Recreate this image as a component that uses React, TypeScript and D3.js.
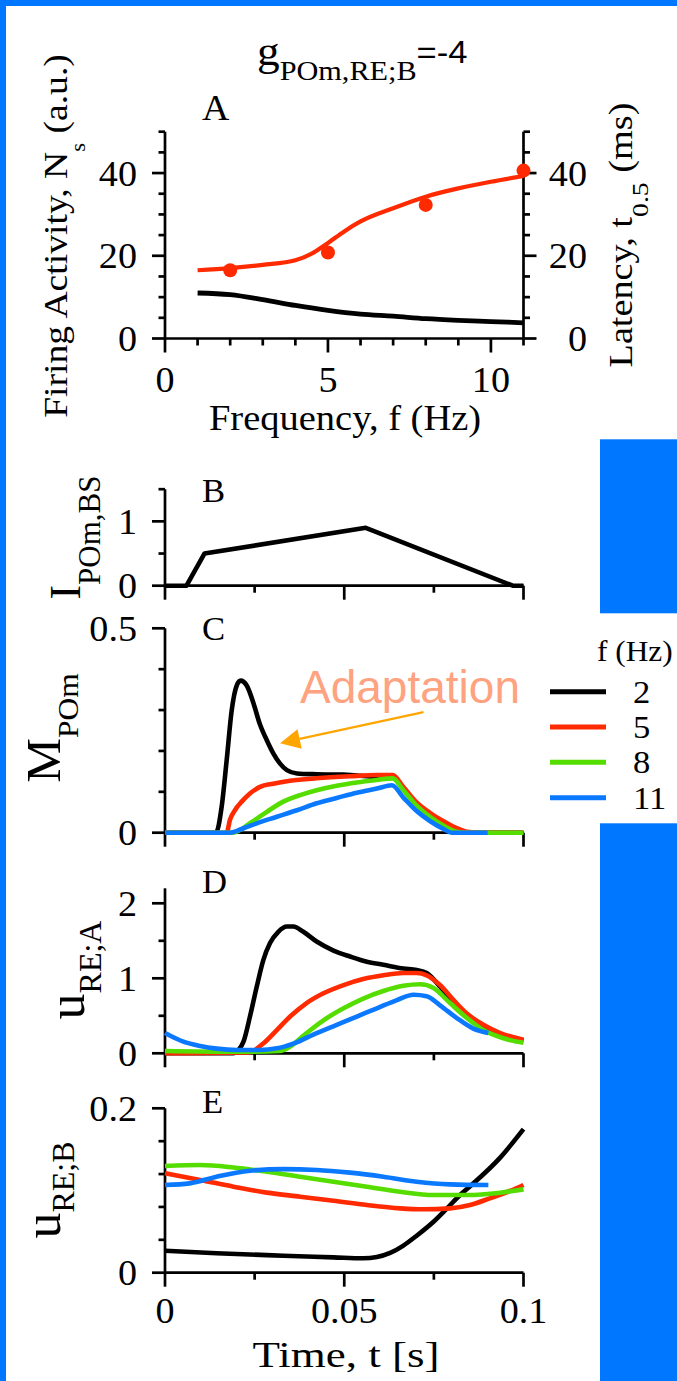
import React from 'react';
import * as d3 from 'd3';

// ---------- DATA ----------
// Panel A
const freqLatency = [1, 2, 3, 4, 4.5, 5, 5.5, 6, 7, 8, 9, 10, 11];
const latencyCurve = [16.5, 17.0, 17.8, 18.9, 20.5, 23.1, 25.9, 28.3, 31.5, 34.3, 36.3, 37.9, 39.3];
const freqFiring = [1, 2, 3, 4, 5, 6, 7, 8, 9, 10, 11];
const firingCurve = [11.0, 10.6, 9.4, 8.0, 6.8, 5.9, 5.4, 4.8, 4.4, 4.1, 3.8];
const freqDots = [2, 5, 8, 11];
const latencyDots = [16.5, 20.8, 32.3, 40.6];

// Panel B: input current [t, I]
const inputB = [[0, 0], [0.006, 0], [0.011, 0.5], [0.056, 0.9], [0.097, 0], [0.1, 0]];

// Panel C: M_POm [t, M]
const mPOm2 = [[0, 0], [0.0142, 0], [0.0158, 0.063], [0.0172, 0.177], [0.0186, 0.299], [0.02, 0.36], [0.0211, 0.372], [0.0228, 0.36], [0.0247, 0.316], [0.0264, 0.267], [0.0284, 0.226], [0.0302, 0.194], [0.0321, 0.169], [0.034, 0.153], [0.0368, 0.145], [0.0423, 0.143], [0.0498, 0.142], [0.0563, 0.138], [0.0609, 0.135], [0.0635, 0.137], [0.0665, 0.108], [0.0702, 0.07], [0.074, 0.044], [0.0777, 0.024], [0.0814, 0.009], [0.0842, 0.001], [0.087, 0], [0.1, 0]];
const mPOm5 = [[0, 0], [0.0172, 0], [0.0181, 0.031], [0.0195, 0.055], [0.0214, 0.076], [0.0237, 0.096], [0.0265, 0.112], [0.0302, 0.12], [0.0349, 0.127], [0.0423, 0.133], [0.0516, 0.138], [0.0591, 0.141], [0.0635, 0.141], [0.0665, 0.112], [0.0702, 0.074], [0.074, 0.048], [0.0777, 0.028], [0.0814, 0.011], [0.0842, 0.002], [0.087, 0], [0.1, 0]];
const mPOm8 = [[0, 0], [0.019, 0], [0.0237, 0.023], [0.0284, 0.051], [0.033, 0.076], [0.0377, 0.092], [0.0423, 0.104], [0.0479, 0.115], [0.0535, 0.123], [0.0591, 0.129], [0.0635, 0.133], [0.0665, 0.104], [0.0702, 0.066], [0.074, 0.038], [0.0777, 0.017], [0.081, 0.003], [0.084, 0], [0.1, 0]];
const mPOm11 = [[0, 0], [0.018, 0], [0.0219, 0.011], [0.0256, 0.023], [0.0312, 0.039], [0.0368, 0.055], [0.0423, 0.072], [0.0479, 0.085], [0.0535, 0.098], [0.0591, 0.108], [0.0633, 0.116], [0.0665, 0.086], [0.0702, 0.053], [0.074, 0.028], [0.0777, 0.009], [0.08, 0], [0.09, 0]];

// Panel D: u_RE;A [t, u]
const uA2 = [[0, 0], [0.019, 0], [0.0205, 0.044], [0.0219, 0.155], [0.0237, 0.49], [0.0256, 0.89], [0.0274, 1.24], [0.0293, 1.47], [0.0316, 1.62], [0.034, 1.69], [0.0358, 1.69], [0.0386, 1.62], [0.0423, 1.49], [0.047, 1.37], [0.0516, 1.29], [0.0563, 1.22], [0.0609, 1.18], [0.0665, 1.13], [0.0702, 1.11], [0.073, 1.07], [0.0767, 0.89], [0.0805, 0.67], [0.0842, 0.49], [0.0888, 0.33], [0.0935, 0.24], [0.1, 0.17]];
const uA5 = [[0, 0], [0.0233, 0.01], [0.0274, 0.13], [0.0312, 0.31], [0.0349, 0.49], [0.0395, 0.67], [0.0442, 0.8], [0.0498, 0.91], [0.0553, 0.99], [0.0609, 1.04], [0.0665, 1.07], [0.0702, 1.07], [0.073, 1.04], [0.0767, 0.91], [0.0805, 0.71], [0.0842, 0.53], [0.0888, 0.38], [0.0935, 0.27], [0.1, 0.18]];
const uA8 = [[0, 0.03], [0.02, 0.02], [0.0321, 0.03], [0.0349, 0.09], [0.0395, 0.27], [0.0442, 0.44], [0.0498, 0.6], [0.0553, 0.73], [0.0609, 0.83], [0.0665, 0.9], [0.0712, 0.92], [0.0749, 0.87], [0.0795, 0.67], [0.0842, 0.47], [0.0888, 0.31], [0.0944, 0.2], [0.1, 0.14]];
const uA11 = [[0, 0.27], [0.0051, 0.155], [0.0098, 0.097], [0.0144, 0.062], [0.02, 0.044], [0.0264, 0.044], [0.0312, 0.066], [0.0358, 0.13], [0.0423, 0.27], [0.0479, 0.38], [0.0535, 0.49], [0.0591, 0.6], [0.0647, 0.71], [0.0693, 0.78], [0.073, 0.76], [0.0767, 0.64], [0.0814, 0.47], [0.086, 0.33], [0.0902, 0.27]];

// Panel E: u_RE;B [t, u]
const uB2 = [[0, 0.0268], [0.0144, 0.0236], [0.033, 0.0207], [0.047, 0.0187], [0.0553, 0.0175], [0.0591, 0.019], [0.0628, 0.024], [0.0665, 0.033], [0.0702, 0.045], [0.0749, 0.062], [0.0786, 0.078], [0.0823, 0.0945], [0.0856, 0.107], [0.0935, 0.14], [0.1, 0.1746]];
const uB5 = [[0, 0.121], [0.0098, 0.1128], [0.0191, 0.1047], [0.0284, 0.0974], [0.0377, 0.0925], [0.047, 0.0876], [0.0563, 0.0824], [0.0656, 0.0783], [0.072, 0.0771], [0.0795, 0.0783], [0.0851, 0.0824], [0.0906, 0.0905], [0.0962, 0.0994], [0.1, 0.1067]];
const uB8 = [[0, 0.1298], [0.0098, 0.131], [0.0191, 0.128], [0.0284, 0.1229], [0.0377, 0.1168], [0.047, 0.1107], [0.0563, 0.1046], [0.0656, 0.0985], [0.0749, 0.0945], [0.0842, 0.0945], [0.0935, 0.0973], [0.1, 0.1014]];
const uB11 = [[0, 0.1067], [0.0069, 0.1087], [0.0144, 0.1168], [0.0237, 0.124], [0.033, 0.126], [0.0423, 0.125], [0.0516, 0.1217], [0.0609, 0.1168], [0.0702, 0.1107], [0.0795, 0.1075], [0.0902, 0.1067]];

// legend / series
const legendFreqs = ['2', '5', '8', '11'];
const seriesColors = ['#000000', '#ff2a00', '#55dd00', '#0a78ff'];

// ticks
const ticksA = { major: [0, 20, 40], minor: [5, 10, 15, 25, 30, 35, 45, 50], labels: ['0', '20', '40'], top: 50 };
const ticksB = { major: [0, 1], minor: [0.5, 1.5], labels: ['0', '1'], top: 1.5 };
const ticksC = { major: [0, 0.5], minor: [0.1, 0.2, 0.3, 0.4], labels: ['0', '0.5'], top: 0.5 };
const ticksD = { major: [0, 1, 2], minor: [0.5, 1.5], labels: ['0', '1', '2'], top: 2.2 };
const ticksE = { major: [0, 0.2], minor: [0.04, 0.08, 0.12, 0.16], labels: ['0', '0.2'], top: 0.2 };
const freqMajor = [0, 5, 10];
const freqMinor = [1, 2, 3, 4, 6, 7, 8, 9, 11];
const freqLabels = ['0', '5', '10'];
const timeMajor = [0, 0.05, 0.1];
const timeMinor = [0.025, 0.075];
const timeLabels = ['0', '0.05', '0.1'];

// annotation (data coords of panel C)
const arrowTail = [0.0721, 0.295];
const arrowTip = [0.0321, 0.219];

const SERIF = '"Liberation Serif", "Times New Roman", Times, serif';
const SANS = '"Liberation Sans", Arial, Helvetica, sans-serif';
const BLUE = '#0077ff';

type Sc = d3.ScaleLinear<number, number>;

function LeftAxis({ y, t, x0 }: { y: Sc; t: any; x0: number }) {
  return (
    <g stroke="#000" strokeWidth={2.7}>
      <line x1={x0} x2={x0} y1={y(0)} y2={y(t.top)} />
      {t.major.map((v: number) => <line key={'M' + v} x1={x0 - 13} x2={x0} y1={y(v)} y2={y(v)} />)}
      {t.minor.map((v: number) => <line key={'m' + v} x1={x0 - 6.5} x2={x0} y1={y(v)} y2={y(v)} />)}
    </g>
  );
}

function BottomAxis({ x, y0, major, minor }: { x: Sc; y0: number; major: number[]; minor: number[] }) {
  const [a, b] = x.range();
  return (
    <g stroke="#000" strokeWidth={2.7}>
      <line x1={a} x2={b} y1={y0} y2={y0} />
      {major.map(v => <line key={'M' + v} x1={x(v)} x2={x(v)} y1={y0} y2={y0 + 14} />)}
      {minor.map(v => <line key={'m' + v} x1={x(v)} x2={x(v)} y1={y0} y2={y0 + 7} />)}
    </g>
  );
}

function TickLabels({ y, t, x, anchor = 'end' }: { y: Sc; t: any; x: number; anchor?: string }) {
  return (
    <g fontFamily={SERIF} fontSize={36} textAnchor={anchor}>
      {t.major.map((v: number, i: number) => (
        <text key={v} transform={`translate(${x},${y(v) + 12.5}) scale(1.06,1)`}>{t.labels[i]}</text>
      ))}
    </g>
  );
}

function Traces({ x, y, data, width = 4.6 }: { x: Sc; y: Sc; data: number[][][]; width?: number }) {
  const line = d3.line<number[]>().x(d => x(d[0])).y(d => y(d[1])).curve(d3.curveMonotoneX);
  return (
    <g fill="none" strokeWidth={width} strokeLinejoin="round">
      {data.map((s, i) => <path key={i} d={line(s) || ''} stroke={seriesColors[i]} />)}
    </g>
  );
}

export default function App() {
  const W = 677, H = 1381;
  const xL = 165, xR = 523.5;
  const xA = d3.scaleLinear().domain([0, 11]).range([xL, xR]);
  const xT = d3.scaleLinear().domain([0, 0.1]).range([xL, xR]);
  const yA = d3.scaleLinear().domain([0, 50]).range([338.5, 131.7]);
  const yB = d3.scaleLinear().domain([0, 1.5]).range([585.7, 489.2]);
  const yC = d3.scaleLinear().domain([0, 0.5]).range([832.7, 628.3]);
  const yD = d3.scaleLinear().domain([0, 2.2]).range([1053.3, 888.3]);
  const yE = d3.scaleLinear().domain([0, 0.2]).range([1272.7, 1108.3]);

  const latPts = freqLatency.map((f, i) => [xA(f), yA(latencyCurve[i])] as [number, number]);
  const firPts = freqFiring.map((f, i) => [xA(f), yA(firingCurve[i])] as [number, number]);
  const lineXY = d3.line().curve(d3.curveMonotoneX);

  // arrow geometry
  const tipX = xT(arrowTip[0]), tipY = yC(arrowTip[1]);
  const tailX = xT(arrowTail[0]), tailY = yC(arrowTail[1]);
  const len = Math.hypot(tipX - tailX, tipY - tailY);
  const ux = (tipX - tailX) / len, uy = (tipY - tailY) / len;
  const bx = tipX - 20 * ux, by = tipY - 20 * uy;
  const px = -uy, py = ux;
  const head = `M${tipX},${tipY}L${bx + 10 * px},${by + 10 * py}L${bx - 10 * px},${by - 10 * py}Z`;

  const letter = (s: string, y: number, size = 33) => (
    <text transform={`translate(202,${y}) scale(1.05,1)`} fontFamily={SERIF} fontSize={size}>{s}</text>
  );

  const legY = d3.scaleLinear().domain([0, 3]).range([691.7, 797.7]);

  return (
    <svg width={W} height={H} style={{ position: 'absolute', left: 0, top: 0, display: 'block' }}>
      <rect x={0} y={0} width={W} height={H} fill={BLUE} />
      <rect x={6} y={6} width={W - 6} height={H - 6} fill="#fff" />
      <rect x={600} y={439.3} width={77} height={174} fill={BLUE} />
      <rect x={600} y={823.3} width={77} height={H - 823.3} fill={BLUE} />

      {/* Title */}
      <text transform="translate(257,65) scale(1.08,1)" fontFamily={SERIF}>
        <tspan fontSize={42}>g</tspan>
        <tspan fontSize={28} dy={15}>POm,RE;B</tspan>
        <tspan fontSize={32} fontFamily={SANS} dy={-17}>=-4</tspan>
      </text>

      {/* ---------- Panel A ---------- */}
      {letter('A', 120, 36)}
      <LeftAxis y={yA} t={ticksA} x0={xL} />
      <g stroke="#000" strokeWidth={2.7}>
        <line x1={xR} x2={xR} y1={yA(0)} y2={yA(50)} />
        {ticksA.major.map(v => <line key={'R' + v} x1={xR} x2={xR + 13} y1={yA(v)} y2={yA(v)} />)}
        {ticksA.minor.map(v => <line key={'r' + v} x1={xR} x2={xR + 6.5} y1={yA(v)} y2={yA(v)} />)}
      </g>
      <BottomAxis x={xA} y0={yA(0)} major={freqMajor} minor={freqMinor} />
      <TickLabels y={yA} t={ticksA} x={137} />
      <TickLabels y={yA} t={ticksA} x={587} />
      <g fontFamily={SERIF} fontSize={36} textAnchor="middle">
        {freqMajor.map((v, i) => <text key={v} transform={`translate(${xA(v)},392) scale(1.06,1)`}>{freqLabels[i]}</text>)}
      </g>
      <path d={lineXY(firPts) || ''} fill="none" stroke="#000" strokeWidth={4.8} />
      <path d={lineXY(latPts) || ''} fill="none" stroke={seriesColors[1]} strokeWidth={4.2} />
      {freqDots.map((f, i) => <circle key={f} cx={xA(f)} cy={yA(latencyDots[i])} r={7} fill={seriesColors[1]} />)}
      <text transform="translate(66.7,236) rotate(-90) scale(1.14,1)" textAnchor="middle" fontFamily={SERIF} fontSize={33}>
        Firing Activity, N<tspan fontSize={20} dy={18}>s</tspan><tspan dy={-18}> (a.u.)</tspan>
      </text>
      <text transform="translate(631.7,235) rotate(-90) scale(1.16,1)" textAnchor="middle" fontFamily={SERIF} fontSize={33}>
        Latency, t<tspan fontSize={24} dy={16}>0.5</tspan><tspan dy={-16}> (ms)</tspan>
      </text>
      <text transform="translate(345,430) scale(1.1,1)" textAnchor="middle" fontFamily={SERIF} fontSize={35}>Frequency, f (Hz)</text>

      {/* ---------- Panel B ---------- */}
      {letter('B', 501.7)}
      <LeftAxis y={yB} t={ticksB} x0={xL} />
      <BottomAxis x={xT} y0={yB(0)} major={timeMajor} minor={timeMinor} />
      <TickLabels y={yB} t={ticksB} x={137} />
      <path d={d3.line<number[]>().x(d => xT(d[0])).y(d => yB(d[1]))(inputB) || ''} fill="none" stroke="#000" strokeWidth={4.6} strokeLinejoin="round" />
      <text transform="translate(80,537.5) rotate(-90)" textAnchor="middle" fontFamily={SERIF}>
        <tspan fontSize={44}>I</tspan><tspan fontSize={31} dy={20}>POm,BS</tspan>
      </text>

      {/* ---------- Panel C ---------- */}
      {letter('C', 640)}
      <LeftAxis y={yC} t={ticksC} x0={xL} />
      <BottomAxis x={xT} y0={yC(0)} major={timeMajor} minor={timeMinor} />
      <TickLabels y={yC} t={ticksC} x={137} />
      <Traces x={xT} y={yC} data={[mPOm2, mPOm5, mPOm8, mPOm11]} />
      <text transform="translate(60,728) rotate(-90) scale(1.05,1)" textAnchor="middle" fontFamily={SERIF}>
        <tspan fontSize={48}>M</tspan><tspan fontSize={30} dy={18}>POm</tspan>
      </text>
      <text x={300} y={703.3} fontFamily={SANS} fontSize={46} fill="#ffa27f">Adaptation</text>
      <line x1={tailX} y1={tailY} x2={bx} y2={by} stroke="#ffa500" strokeWidth={2.2} />
      <path d={head} fill="#ffa500" />

      {/* legend */}
      <text transform="translate(597,661) scale(1.08,1)" fontFamily={SERIF} fontSize={29}>f (Hz)</text>
      {legendFreqs.map((f, i) => (
        <g key={f}>
          <line x1={550} x2={606} y1={legY(i)} y2={legY(i)} stroke={seriesColors[i]} strokeWidth={5} />
          <text transform={`translate(633,${legY(i) + 11}) scale(1.08,1)`} fontFamily={SERIF} fontSize={32}>{f}</text>
        </g>
      ))}

      {/* ---------- Panel D ---------- */}
      {letter('D', 893.3)}
      <LeftAxis y={yD} t={ticksD} x0={xL} />
      <BottomAxis x={xT} y0={yD(0)} major={timeMajor} minor={timeMinor} />
      <TickLabels y={yD} t={ticksD} x={137} />
      <Traces x={xT} y={yD} data={[uA2, uA5, uA8, uA11]} />
      <text transform="translate(84,970) rotate(-90)" textAnchor="middle" fontFamily={SERIF}>
        <tspan fontSize={52}>u</tspan><tspan fontSize={32} dy={17}>RE;A</tspan>
      </text>

      {/* ---------- Panel E ---------- */}
      {letter('E', 1113)}
      <LeftAxis y={yE} t={ticksE} x0={xL} />
      <BottomAxis x={xT} y0={yE(0)} major={timeMajor} minor={timeMinor} />
      <TickLabels y={yE} t={ticksE} x={137} />
      <Traces x={xT} y={yE} data={[uB2, uB5, uB8, uB11]} />
      <text transform="translate(60,1190) rotate(-90)" textAnchor="middle" fontFamily={SERIF}>
        <tspan fontSize={52}>u</tspan><tspan fontSize={32} dy={14}>RE;B</tspan>
      </text>
      <g fontFamily={SERIF} fontSize={36} textAnchor="middle">
        {timeMajor.map((v, i) => <text key={v} transform={`translate(${xT(v)},1323) scale(1.06,1)`}>{timeLabels[i]}</text>)}
      </g>
      <text transform="translate(346,1367) scale(1.25,1)" textAnchor="middle" fontFamily={SERIF} fontSize={36}>Time, t [s]</text>
    </svg>
  );
}
